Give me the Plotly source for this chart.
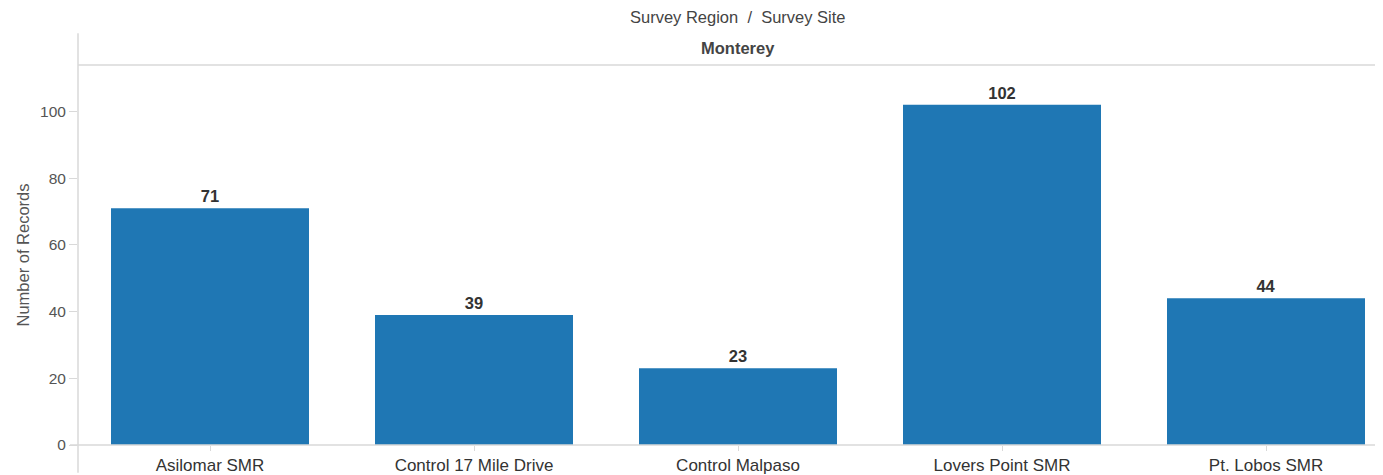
import plotly.graph_objects as go

sites = ["Asilomar SMR", "Control 17 Mile Drive", "Control Malpaso", "Lovers Point SMR", "Pt. Lobos SMR"]
records = [71, 39, 23, 102, 44]
y_ticks = [0, 20, 40, 60, 80, 100]
region = "Monterey"
header = "Survey Region  /  Survey Site"

OFF = 8  # page body margin
W, H = 1383 - OFF, 475 - OFF
L, R, T, B = 78 - OFF, 0, 65 - OFF, 28
plot_h = H - T - B
plot_w = W - L - R
cat_w = 264.0
x_max = -0.5 + plot_w / cat_w

line_col = "#d9d9d9"
font = "Liberation Sans, Arial, sans-serif"

fig = go.Figure(go.Bar(
    x=list(range(len(sites))), y=records, width=0.75,
    marker=dict(color="#1f77b4", line=dict(width=0)),
    text=[str(v) for v in records], textposition="outside",
    textfont=dict(family=font, size=16.5, color="#333333"),
    texttemplate="<b>%{text}</b>", cliponaxis=False,
))

def py(pix):  # page pixel y -> paper y
    return (447 - pix) / plot_h

def px(pix):
    return (pix - 78) / plot_w

fig.update_layout(
    width=W, height=H, margin=dict(l=L, r=R, t=T, b=B, pad=0),
    plot_bgcolor="white", paper_bgcolor="white", showlegend=False,
    font=dict(family=font),
    xaxis=dict(range=[-0.5, x_max], tickmode="array", tickvals=list(range(len(sites))),
               ticktext=sites, tickson="boundaries", ticks="outside", ticklen=5,
               tickcolor=line_col, showgrid=False, zeroline=False, showline=False,
               tickfont=dict(family=font, size=17, color="#333333")),
    yaxis=dict(range=[0, plot_h / 3.353], tickvals=y_ticks, ticks="outside", ticklen=8,
               tickcolor=line_col, showgrid=False, zeroline=False, showline=False,
               tickfont=dict(family=font, size=15.5, color="#555555"),
               title=dict(text="Number of Records", font=dict(family=font, size=16.5, color="#555555"),
                          standoff=6)),
    shapes=[
        dict(type="line", xref="paper", yref="paper", x0=0, x1=0, y0=py(475), y1=py(33),
             line=dict(color=line_col, width=1.5)),
        dict(type="line", xref="paper", yref="paper", x0=0, x1=1, y0=1, y1=1,
             line=dict(color=line_col, width=1.5)),
        dict(type="line", xref="paper", yref="paper", x0=px(70), x1=1, y0=0, y1=0,
             line=dict(color=line_col, width=1.5)),
    ],
    annotations=[
        dict(text=header, xref="x", yref="paper", x=2, y=py(17), showarrow=False,
             font=dict(family=font, size=16.5, color="#444444"), yanchor="middle"),
        dict(text="<b>" + region + "</b>", xref="x", yref="paper", x=2, y=py(48), showarrow=False,
             font=dict(family=font, size=16.5, color="#444444"), yanchor="middle"),
    ],
)

fig.write_html("out.html")
